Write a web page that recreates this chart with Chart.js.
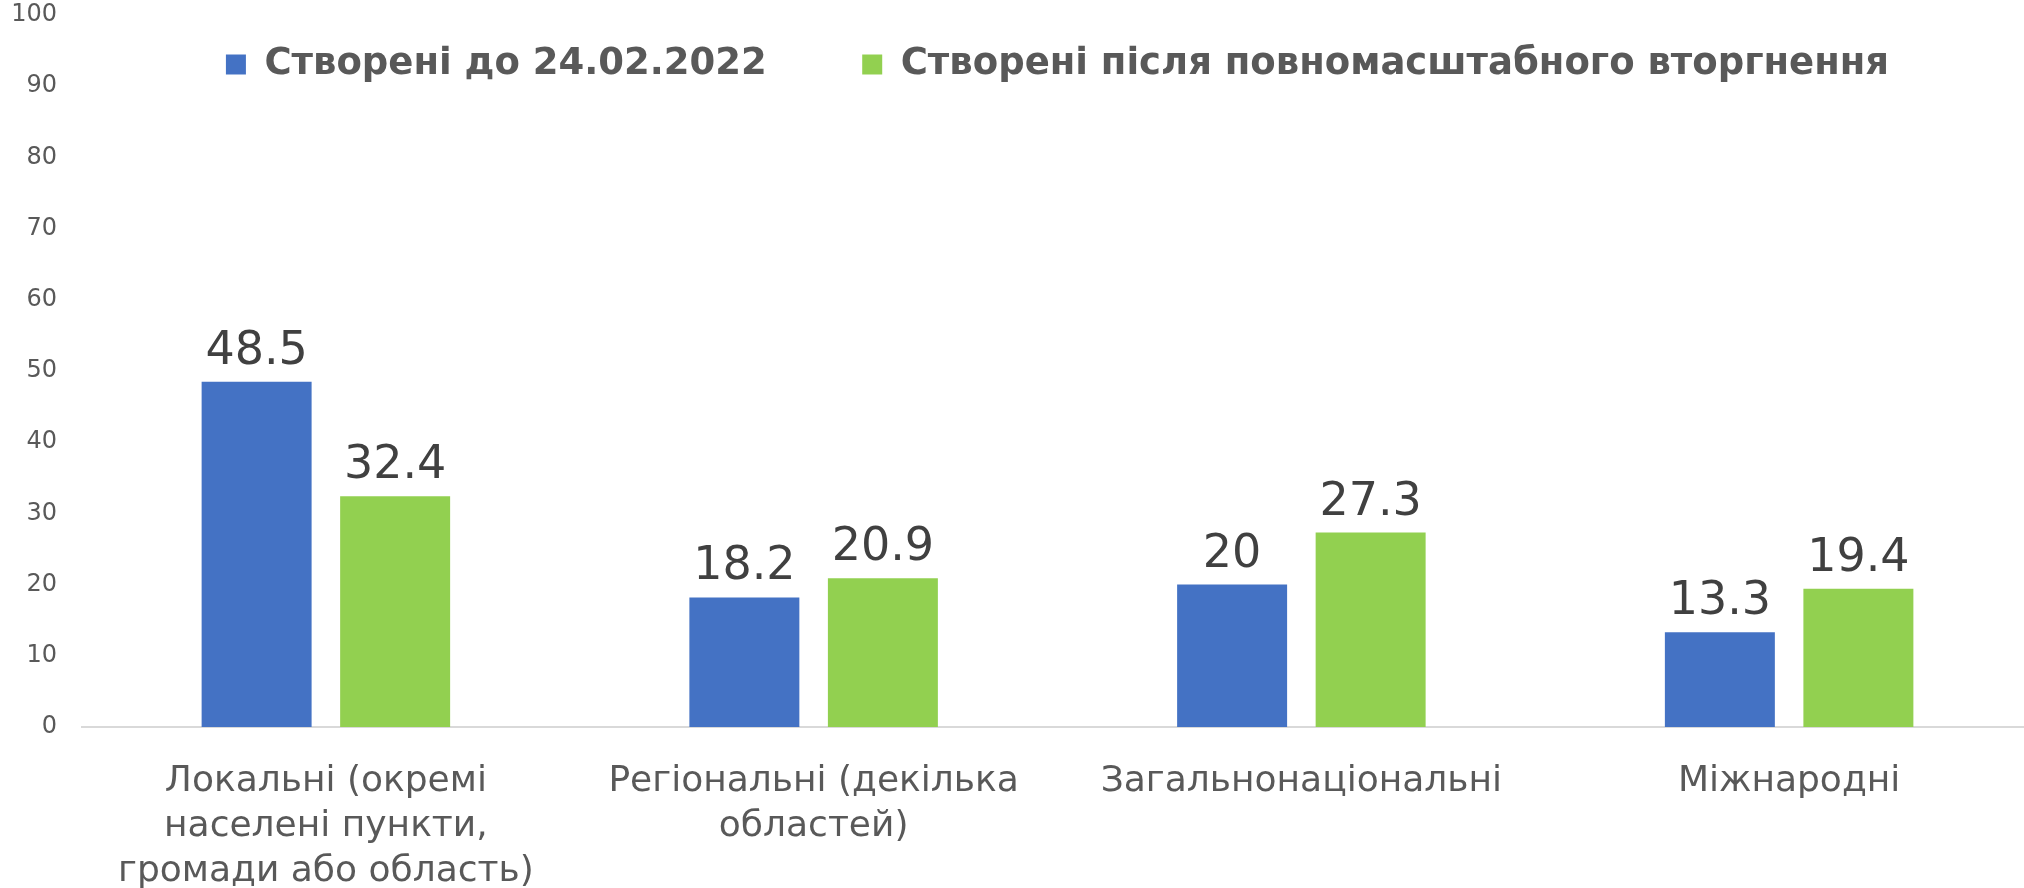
<!DOCTYPE html>
<html>
<head>
<meta charset="utf-8">
<script src="https://cdn.jsdelivr.net/npm/chart.js@4.4.1/dist/chart.umd.min.js"></script>
<style>
  html, body { margin: 0; padding: 0; background: #fff; overflow: hidden; }
  #wrap { position: absolute; left: 0; top: 0; width: 2034px; height: 888px; }
</style>
</head>
<body>
<div id="wrap"><canvas id="myChart" width="2034" height="888"></canvas></div>
<script>
// Chart data
let categories = [
  ["Локальні (окремі", "населені пункти,", "громади або область)"],
  ["Регіональні (декілька", "областей)"],
  "Загальнонаціональні",
  "Міжнародні"
];
let seriesNames = ["Створені до 24.02.2022", "Створені після повномасштабного вторгнення"];
let beforeValues = [48.5, 18.2, 20, 13.3];
let afterValues = [32.4, 20.9, 27.3, 19.4];
let yTicks = [0, 10, 20, 30, 40, 50, 60, 70, 80, 90, 100];

let blue = "#4472C4",
  green = "#92D050",
  textGrey = "#595959",
  labelGrey = "#404040";

// Draws the value above every bar (no datalabels plugin available)
const valueLabels = {
  id: "valueLabels",
  afterDatasetsDraw(chart) {
    let ctx = chart.ctx;
    ctx.save();
    ctx.font = "46px 'DejaVu Sans'";
    ctx.fillStyle = labelGrey;
    ctx.textAlign = "center";
    ctx.textBaseline = "alphabetic";
    chart.data.datasets.forEach((ds, i) => {
      chart.getDatasetMeta(i).data.forEach((bar, j) => {
        ctx.fillText(String(ds.data[j]), bar.x, bar.y - 18);
      });
    });
    ctx.restore();
  }
};

// Legend sits inside the plot like in Excel: it takes no layout height,
// then gets its real height back so it isn't clipped when drawn
const floatingLegend = {
  id: "floatingLegend",
  beforeLayout(chart) {
    let lg = chart.legend;
    if (lg && !lg._floating) {
      let fit = lg.fit.bind(lg);
      lg.fit = function () { fit(); this._realHeight = this.height; this.height = 0; };
      lg._floating = true;
    }
  },
  afterLayout(chart) {
    let lg = chart.legend;
    if (lg && lg._floating) {
      lg.height = lg._realHeight;
      lg.bottom = lg.top + lg.height;
    }
  }
};

let ctx = document.getElementById("myChart").getContext("2d");
let myChart = new Chart(ctx, {
  type: "bar",
  data: {
    labels: categories,
    datasets: [
      { label: seriesNames[0], data: beforeValues, backgroundColor: blue, borderWidth: 0 },
      { label: seriesNames[1], data: afterValues, backgroundColor: green, borderWidth: 0 }
    ]
  },
  options: {
    responsive: false,
    animation: false,
    categoryPercentage: 0.568,
    barPercentage: 0.794,
    layout: { padding: { top: 15, right: 1, left: 0, bottom: 0 } },
    plugins: {
      tooltip: { enabled: false },
      legend: {
        position: "top",
        align: "center",
        fullSize: false,
        labels: {
          color: textGrey,
          font: { family: "'DejaVu Sans'", size: 37, weight: "bold" },
          boxWidth: 20,
          boxHeight: 20,
          padding: 31,
          generateLabels(chart) {
            let items = Chart.defaults.plugins.legend.labels.generateLabels(chart);
            // extra room between the two entries
            items[0].text = items[0].text + "     ";
            return items;
          }
        }
      }
    },
    scales: {
      x: {
        grid: { display: false, drawTicks: false },
        border: { display: true, color: "#D9D9D9", width: 2 },
        ticks: {
          color: textGrey,
          font: { family: "'DejaVu Sans'", size: 36, lineHeight: 1.25 },
          padding: 32,
          maxRotation: 0,
          autoSkip: false
        },
        afterFit(scale) { scale.height = 161; }
      },
      y: {
        min: 0,
        max: 100,
        afterBuildTicks(scale) { scale.ticks = yTicks.map(v => ({ value: v })); },
        grid: { display: false, drawTicks: false },
        border: { display: false },
        ticks: {
          color: textGrey,
          font: { family: "'DejaVu Sans'", size: 24 },
          padding: 25
        },
        afterFit(scale) {
          scale.width = 82;
          scale.paddingTop = 0;
          scale.paddingBottom = 0;
        }
      }
    }
  },
  plugins: [floatingLegend, valueLabels]
});
</script>
</body>
</html>
